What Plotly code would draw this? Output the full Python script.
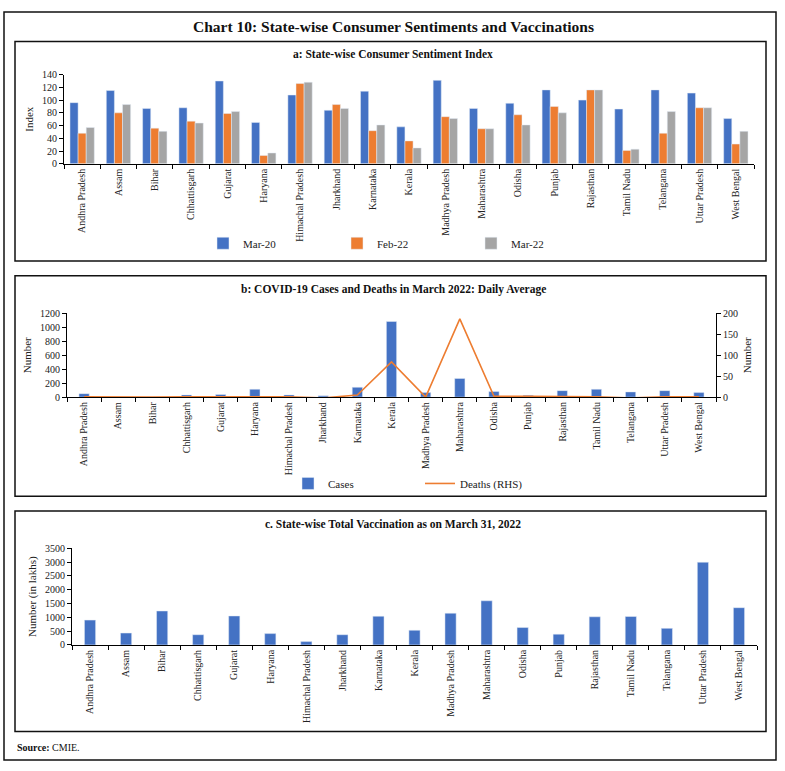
import plotly.graph_objects as go

W, H = 785, 771

states = ["Andhra Pradesh", "Assam", "Bihar", "Chhattisgarh", "Gujarat", "Haryana",
          "Himachal Pradesh", "Jharkhand", "Karnataka", "Kerala", "Madhya Pradesh",
          "Maharashtra", "Odisha", "Punjab", "Rajasthan", "Tamil Nadu", "Telangana",
          "Uttar Pradesh", "West Bengal"]

# Panel a: Consumer Sentiment Index
csi_mar20 = [96, 115, 87, 88, 130, 65, 108, 84, 114, 58, 131, 87, 95, 116, 100, 86, 116, 111, 71]
csi_feb22 = [48, 80, 56, 67, 79, 13, 126, 93, 52, 36, 74, 55, 77, 90, 116, 21, 48, 88, 31]
csi_mar22 = [57, 93, 51, 64, 82, 17, 128, 87, 61, 25, 71, 55, 61, 80, 116, 23, 82, 88, 51]

# Panel b: COVID-19 daily average, March 2022
cases = [50, 3, 2, 32, 38, 113, 32, 20, 141, 1085, 65, 268, 80, 25, 93, 113, 75, 93, 65]
deaths = [1, 0, 0, 0.5, 1, 1, 1, -2, 5, 84, 0, 187, 2, 2, 1, 1, -2, 1, 1]

# Panel c: Total vaccination (lakhs) as on March 31, 2022
vacc = [900, 430, 1230, 370, 1050, 410, 120, 370, 1040, 530, 1150, 1600, 630, 390,
        1020, 1030, 600, 3000, 1350]

BLUE = "#4472C4"
ORANGE = "#ED7D31"
GREY = "#A5A5A5"
SERIF = "Liberation Serif"


def X(px):
    return px / W


def Y(py):
    return 1 - py / H


fig = go.Figure()

fig.add_trace(go.Bar(x=states, y=csi_mar20, name="Mar-20", marker_color=BLUE,
                     xaxis="x", yaxis="y", legend="legend"))
fig.add_trace(go.Bar(x=states, y=csi_feb22, name="Feb-22", marker_color=ORANGE,
                     xaxis="x", yaxis="y", legend="legend"))
fig.add_trace(go.Bar(x=states, y=csi_mar22, name="Mar-22", marker_color=GREY,
                     xaxis="x", yaxis="y", legend="legend"))

fig.add_trace(go.Bar(x=states, y=cases, name="Cases", marker_color=BLUE, width=0.3,
                     xaxis="x2", yaxis="y2", legend="legend2"))
fig.add_trace(go.Scatter(x=states, y=deaths, name="Deaths (RHS)", mode="lines",
                         line=dict(color=ORANGE, width=1.6),
                         xaxis="x2", yaxis="y4", legend="legend2"))

fig.add_trace(go.Bar(x=states, y=vacc, name="Vaccination", marker_color=BLUE, width=0.31,
                     xaxis="x3", yaxis="y3", showlegend=False))

tickf = dict(family=SERIF, size=10, color="#222")
xcommon = dict(type="category", tickson="boundaries", ticks="outside", ticklen=4,
               tickcolor="black", showline=True, linecolor="black", linewidth=1,
               tickangle=-90, tickfont=tickf, showgrid=False, fixedrange=True)
ycommon = dict(ticks="outside", ticklen=4, tickcolor="black", showline=True,
               linecolor="black", linewidth=1, tickfont=tickf, showgrid=False,
               zeroline=False, fixedrange=True)
titlef = dict(family=SERIF, size=11, color="#222")

fig.update_layout(
    width=W, height=H,
    margin=dict(l=0, r=0, t=0, b=0),
    paper_bgcolor="white", plot_bgcolor="white",
    barmode="group", bargap=0.33, bargroupgap=0,
    font=dict(family=SERIF, color="#222"),
    xaxis=dict(xcommon, domain=[X(64), X(754)], anchor="y"),
    yaxis=dict(ycommon, domain=[Y(160.3), Y(69.7)], range=[0, 140], dtick=20,
               anchor="x", title=dict(text="Index", font=titlef, standoff=6)),
    xaxis2=dict(xcommon, domain=[X(67), X(716)], anchor="y2"),
    yaxis2=dict(ycommon, domain=[Y(397.3), Y(312.3)], range=[0, 1200], dtick=200,
                anchor="x2", title=dict(text="Number", font=titlef, standoff=6)),
    yaxis4=dict(ycommon, overlaying="y2", side="right", anchor="x2", range=[0, 200],
                dtick=50, title=dict(text="Number", font=titlef, standoff=6)),
    xaxis3=dict(xcommon, domain=[X(72), X(757)], anchor="y3"),
    yaxis3=dict(ycommon, domain=[Y(649), Y(551)], range=[0, 3500], dtick=500,
                anchor="x3", title=dict(text="Number (in lakhs)", font=titlef, standoff=6)),
    legend=dict(orientation="h", x=X(203), y=Y(241), xanchor="left", yanchor="middle",
                entrywidth=89, entrywidthmode="pixels", font=dict(family=SERIF, size=11),
                bgcolor="rgba(0,0,0,0)", itemclick=False, traceorder="normal"),
    legend2=dict(orientation="h", x=X(288), y=Y(485), xanchor="left", yanchor="middle",
                 entrywidth=87, entrywidthmode="pixels", font=dict(family=SERIF, size=11),
                 bgcolor="rgba(0,0,0,0)", itemclick=False, traceorder="normal"),
    showlegend=True,
)

annos = [
    ("<b>Chart 10: State-wise Consumer Sentiments and Vaccinations</b>", 393, 21, 15.5),
    ("<b>a: State-wise Consumer Sentiment Index</b>", 393, 49, 11.5),
    ("<b>b: COVID-19 Cases and Deaths in March 2022: Daily Average</b>", 393, 288, 11.5),
    ("<b>c. State-wise Total Vaccination as on March 31, 2022</b>", 393, 526, 11.5),
]
for text, px, py, sz in annos:
    fig.add_annotation(text=text, x=X(px), y=Y(py), xref="paper", yref="paper",
                       xanchor="center", yanchor="middle", showarrow=False,
                       font=dict(family=SERIF, size=sz, color="#111"))
fig.add_annotation(text="<b>Source:</b> CMIE.", x=X(15), y=Y(753), xref="paper", yref="paper",
                   xanchor="left", yanchor="middle", showarrow=False,
                   font=dict(family=SERIF, size=10, color="#111"))

boxes = [(4, 6, 776, 766), (15, 36, 766, 259), (15, 274, 766, 498), (15, 513, 766, 737)]
for x0, y0, x1, y1 in boxes:
    fig.add_shape(type="rect", xref="paper", yref="paper", x0=X(x0), y0=Y(y1),
                  x1=X(x1), y1=Y(y0), line=dict(color="#111", width=1.5),
                  fillcolor="rgba(0,0,0,0)", layer="above")

fig.write_html("out.html",
               config={"displayModeBar": False, "staticPlot": True},
               post_script="document.body.style.margin='0';document.body.style.overflow='hidden';")
